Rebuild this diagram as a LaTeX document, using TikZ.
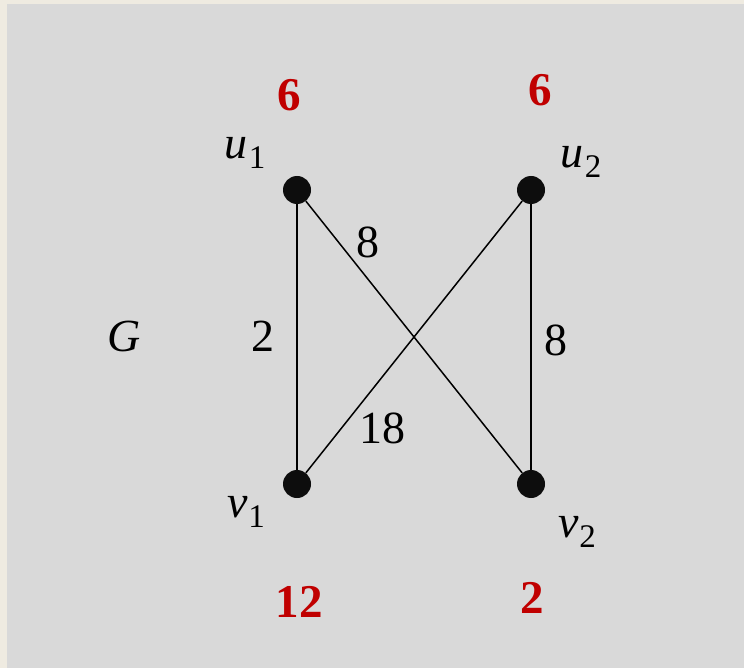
\documentclass[tikz,border=0pt]{standalone}
\usepackage{fontspec}
\setmainfont{Liberation Serif}
\definecolor{bgbeige}{HTML}{EFEBE1}
\definecolor{bggray}{HTML}{D9D9D9}
\definecolor{wred}{HTML}{C00000}
\newcommand{\vlab}[2]{{\itshape #1}\kern1pt\raisebox{-10pt}{\fontsize{33}{35}\selectfont #2}}
\begin{document}
\begin{tikzpicture}[x=1pt,y=-1pt,
  vert/.style={circle,fill=black!95,inner sep=0pt,minimum size=28pt},
  lbl/.style={font=\fontsize{46}{52}\selectfont,inner sep=0pt},
  wt/.style={font=\fontsize{47}{52}\selectfont\bfseries,text=wred,inner sep=0pt},
  edge/.style={line width=1.5pt}]
\useasboundingbox (0,0) rectangle (744,668);
\fill[bgbeige] (0,0) rectangle (744,668);
\fill[bggray] (7,4) rectangle (744,668);
\node[vert] (u1) at (297,190) {};
\node[vert] (u2) at (531,190) {};
\node[vert] (v1) at (297,484) {};
\node[vert] (v2) at (531,484) {};
\draw[edge] (u1) -- (v1);
\draw[edge] (u2) -- (v2);
\draw[edge] (u1) -- (v2);
\draw[edge] (u2) -- (v1);
\node[lbl] (lu1) at (245,153) {\vlab{u}{1}};
\node[lbl] (lu2) at (581,162) {\vlab{u}{2}};
\node[lbl] (lv1) at (246,512) {\vlab{v}{1}};
\node[lbl] (lv2) at (577,532) {\vlab{v}{2}};
\node[lbl] (g) at (124,336) {\itshape G};
\node[lbl] (e1) at (368,242) {8};
\node[lbl] (e2) at (263,336) {2};
\node[lbl] (e3) at (556,340) {8};
\node[lbl] (e4) at (382,428) {18};
\node[wt] (w1) at (289,95) {6};
\node[wt] (w2) at (540,90) {6};
\node[wt] (w3) at (299,602) {12};
\node[wt] (w4) at (532,598) {2};
\end{tikzpicture}
\end{document}
